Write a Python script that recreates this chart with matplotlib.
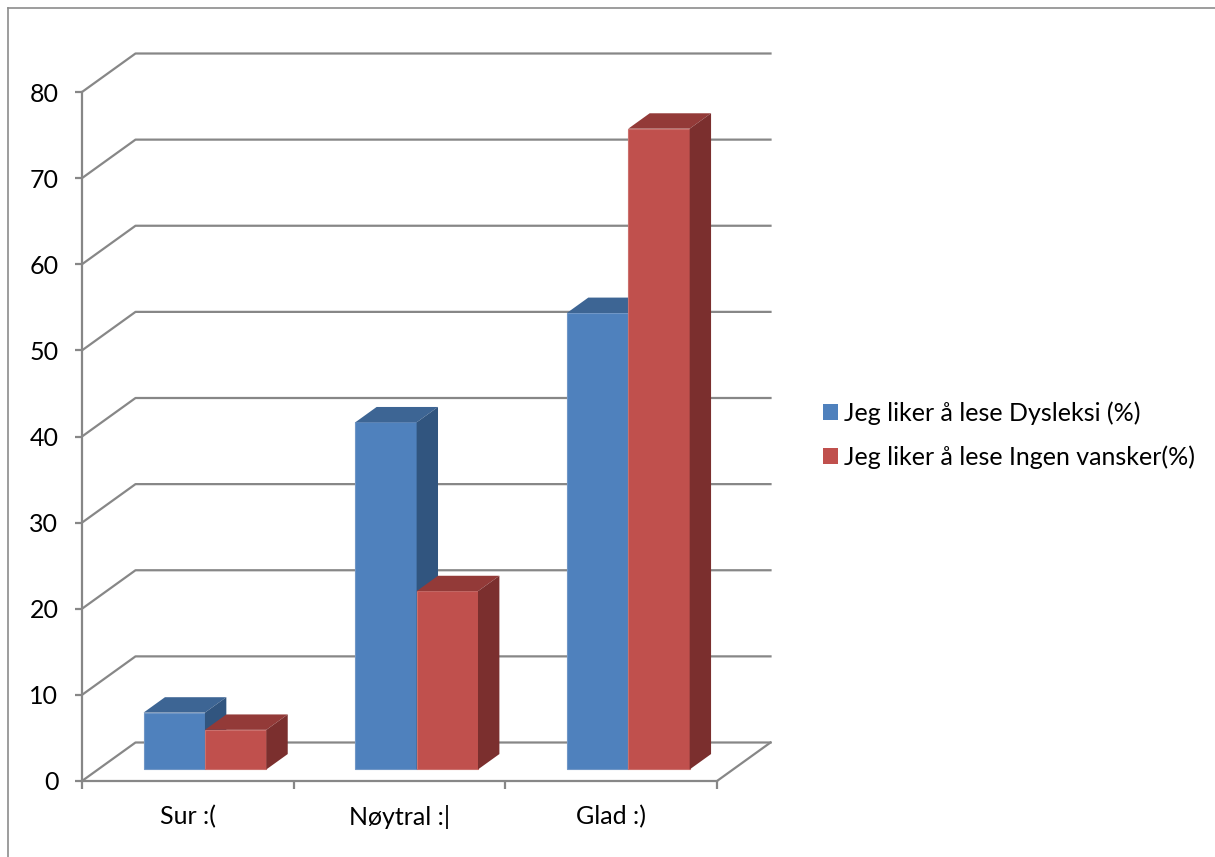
import matplotlib
matplotlib.use('Agg')
import matplotlib.pyplot as plt
from matplotlib.patches import Polygon, Patch
from matplotlib.lines import Line2D
from matplotlib.transforms import ScaledTranslation, IdentityTransform

categories = ['Sur :(', 'Nøytral :|', 'Glad :)']
series_names = ['Jeg liker å lese Dysleksi (%)', 'Jeg liker å lese Ingen vansker(%)']
dysleksi = [6.6, 40.3, 53.0]
ingen_vansker = [4.6, 20.7, 74.4]
y_ticks = list(range(0, 90, 10))

front_colors = ['#4F81BD', '#C0504D']
top_colors = ['#3D6594', '#933A38']
side_colors = ['#31557F', '#7B2F2E']
edge_colors = ['#7096C6', '#CB706D']
grid_color = '#878787'

plt.rcParams['font.family'] = ['Lato', 'DejaVu Sans']

fig = plt.figure(figsize=(12.15, 8.57), dpi=100)
ax = fig.add_axes([82 / 1215, 76 / 857, 635 / 1215, 689 / 857])
ax.set_xlim(0, len(categories))
ax.set_ylim(0, 80)

# oblique depth of the floor/back wall, in inches
DX, DY = 0.535, 0.385


def proj(x, y, d):
    tr = ax.transData + ScaledTranslation(DX * d, DY * d, fig.dpi_scale_trans)
    return tr.transform((x, y))


def face(pts, fc, z, ec='none'):
    ax.add_patch(Polygon([proj(*p) for p in pts], closed=True,
                         transform=IdentityTransform(), facecolor=fc,
                         edgecolor=ec, lw=0.8, zorder=z, clip_on=False))


def line3d(pts, z=1):
    xy = [proj(*p) for p in pts]
    ax.add_line(Line2D([p[0] for p in xy], [p[1] for p in xy],
                       transform=IdentityTransform(), color=grid_color,
                       lw=1.6, zorder=z, clip_on=False))


nx = len(categories)
# walls: left diagonal + back wall line for each level
for v in y_ticks:
    line3d([(0, v, 0), (0, v, 1), (nx, v, 1)])
line3d([(nx, 0, 0), (nx, 0, 1)])

# bars
w = 0.29
d0, d1 = 0.3, 0.7
series = [dysleksi, ingen_vansker]
z = 3
for i in range(nx):
    for j, vals in enumerate(series):
        l = i + 0.505 - w + j * w
        r = l + w
        h = vals[i]
        face([(l, 0, d0), (r, 0, d0), (r, h, d0), (l, h, d0)], front_colors[j], z, edge_colors[j])
        face([(l, h, d0), (r, h, d0), (r, h, d1), (l, h, d1)], top_colors[j], z)
        face([(r, 0, d0), (r, 0, d1), (r, h, d1), (r, h, d0)], side_colors[j], z)
        z += 1

# axes
for s in ['top', 'right']:
    ax.spines[s].set_visible(False)
for s in ['left', 'bottom']:
    ax.spines[s].set_color(grid_color)
    ax.spines[s].set_linewidth(1.6)
ax.set_yticks(y_ticks)
ax.tick_params(axis='y', colors=grid_color, labelcolor='black', length=5,
               width=1.6, pad=12, labelsize=18)
ax.set_xticks(range(nx + 1))
ax.set_xticklabels([])
ax.set_xticks([i + 0.5 for i in range(nx)], minor=True)
ax.set_xticklabels(categories, minor=True)
ax.tick_params(axis='x', which='major', colors=grid_color, length=6, width=1.6)
ax.tick_params(axis='x', which='minor', length=0, pad=17, labelsize=18)
ax.patch.set_visible(False)

handles = [Patch(facecolor=c, edgecolor='none') for c in front_colors]
fig.legend(handles, series_names, loc='center left',
           bbox_to_anchor=(823 / 1215, 1 - 435 / 857), frameon=False,
           fontsize=18, handlelength=0.6, handleheight=0.6,
           handletextpad=0.25, labelspacing=0.8, borderpad=0, borderaxespad=0)

# chart area border (top and left edges)
fig.add_artist(Line2D([8 / 1215, 1], [1 - 8 / 857] * 2, transform=fig.transFigure,
                      color='#8C8C8C', lw=1.2))
fig.add_artist(Line2D([8 / 1215] * 2, [0, 1 - 8 / 857], transform=fig.transFigure,
                      color='#8C8C8C', lw=1.2))

fig.savefig('out.png', dpi=100)
